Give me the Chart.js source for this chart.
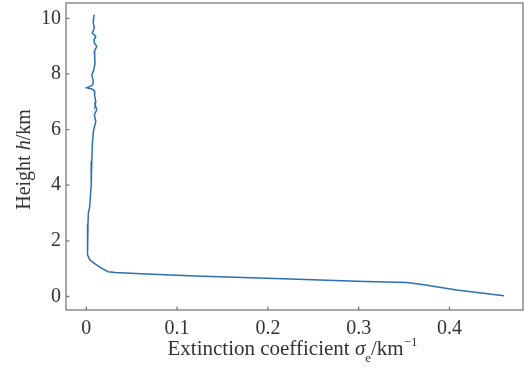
<!DOCTYPE html>
<html>
<head>
<meta charset="utf-8">
<script src="https://cdn.jsdelivr.net/npm/chart.js@4.4.1/dist/chart.umd.min.js"></script>
<style>
  html, body { margin: 0; padding: 0; background: #fff; }
  #wrap { width: 525px; height: 370px; position: relative; }
</style>
</head>
<body>
<div id="wrap"><canvas id="chart"></canvas></div>
<script>
// extinction profile, read top to bottom
const heights = [10.13, 10.0, 9.83, 9.65, 9.47, 9.35, 9.22, 9.11, 8.99, 8.81, 8.6, 8.39, 8.2, 8.09, 7.97,
  7.73, 7.6, 7.5, 7.46, 7.4, 7.2, 7.0, 6.89, 6.71, 6.53, 6.29, 6.1, 5.93, 5.45, 4.85, 4.4, 4.01, 3.6,
  3.2, 2.99, 2.6, 2.39, 2.0, 1.67, 1.5, 1.43, 1.31, 1.22, 1.12, 1.01, 0.89, 0.86, 0.82, 0.74, 0.63,
  0.55, 0.52, 0.5, 0.43, 0.23, 0.03];
const extinction = [0.0088, 0.008, 0.0077, 0.0088, 0.0066, 0.0104, 0.0085, 0.0088, 0.0115, 0.0088, 0.0092,
  0.0096, 0.0085, 0.0077, 0.006, 0.0077, 0.007, 0.0004, 0.006, 0.0088, 0.0092, 0.0104, 0.0096, 0.0115,
  0.0088, 0.0104, 0.009, 0.0077, 0.0066, 0.006, 0.0055, 0.0052, 0.0045, 0.0036, 0.0022, 0.0018, 0.0015,
  0.0012, 0.001, 0.0015, 0.0022, 0.004, 0.0077, 0.012, 0.017, 0.024, 0.032, 0.06, 0.12, 0.225, 0.298,
  0.33, 0.353, 0.37, 0.408, 0.46];
const xTicks = [0, 0.1, 0.2, 0.3, 0.4];
const yTicks = [0, 2, 4, 6, 8, 10];

const serif = "'Liberation Serif', 'Times New Roman', serif";
const textColor = '#333';

function drawRuns(ctx, runs, x, y, align) {
  let total = 0;
  runs.forEach(r => { ctx.font = r.font; total += ctx.measureText(r.t).width; });
  let cx = align === 'center' ? x - total / 2 : x;
  runs.forEach(r => {
    ctx.font = r.font;
    ctx.fillText(r.t, cx, y + (r.dy || 0));
    cx += ctx.measureText(r.t).width;
  });
}

const framePlugin = {
  id: 'frame',
  afterDraw(chart) {
    const { ctx, chartArea: a, scales: { x, y } } = chart;
    ctx.save();
    ctx.strokeStyle = '#7a7a7a';
    ctx.lineWidth = 1.3;
    ctx.strokeRect(a.left, a.top, a.right - a.left, a.bottom - a.top);
    ctx.beginPath();
    x.ticks.forEach(t => {
      const px = x.getPixelForValue(t.value);
      ctx.moveTo(px, a.bottom);
      ctx.lineTo(px, a.bottom - 3.5);
    });
    y.ticks.forEach(t => {
      const py = y.getPixelForValue(t.value);
      ctx.moveTo(a.left, py);
      ctx.lineTo(a.left + 3.5, py);
    });
    ctx.stroke();

    ctx.fillStyle = textColor;
    ctx.textAlign = 'left';
    ctx.textBaseline = 'alphabetic';
    const reg = '21px ' + serif, ita = 'italic 21px ' + serif, small = '13px ' + serif;
    drawRuns(ctx, [
      { t: 'Extinction coefficient ', font: reg },
      { t: 'σ', font: ita },
      { t: 'e', font: small, dy: 7 },
      { t: '/km', font: reg },
      { t: '−1', font: small, dy: -9 }
    ], (a.left + a.right) / 2 - 2, 355, 'center');

    const yreg = '20px ' + serif, yita = 'italic 20px ' + serif;
    ctx.translate(30, (a.top + a.bottom) / 2 + 3);
    ctx.rotate(-Math.PI / 2);
    drawRuns(ctx, [
      { t: 'Height ', font: yreg },
      { t: 'h', font: yita },
      { t: '/km', font: yreg }
    ], 0, 0, 'center');
    ctx.restore();
  }
};

new Chart(document.getElementById('chart'), {
  type: 'scatter',
  data: {
    datasets: [{
      data: heights.map((h, i) => ({ x: extinction[i], y: h })),
      showLine: true,
      borderColor: '#2c6fb3',
      borderWidth: 1.5,
      pointRadius: 0,
      fill: false,
      tension: 0
    }]
  },
  options: {
    responsive: true,
    maintainAspectRatio: false,
    animation: false,
    layout: { padding: { top: 3, right: 2, left: 0, bottom: 0 } },
    plugins: { legend: { display: false }, tooltip: { enabled: false } },
    scales: {
      x: {
        type: 'linear',
        min: -0.0224,
        max: 0.481,
        afterBuildTicks: s => { s.ticks = xTicks.map(v => ({ value: v })); },
        afterFit: s => { s.height = 60; s.paddingLeft = 0; s.paddingRight = 0; },
        grid: { display: false, drawTicks: false },
        border: { display: false },
        ticks: {
          padding: 7,
          color: textColor,
          font: { family: serif, size: 20 },
          callback: v => String(v)
        }
      },
      y: {
        type: 'linear',
        min: -0.486,
        max: 10.55,
        afterBuildTicks: s => { s.ticks = yTicks.map(v => ({ value: v })); },
        afterFit: s => { s.width = 66; s.paddingTop = 0; s.paddingBottom = 0; },
        grid: { display: false, drawTicks: false },
        border: { display: false },
        ticks: {
          padding: 5,
          color: textColor,
          font: { family: serif, size: 20 },
          callback: v => String(v)
        }
      }
    }
  },
  plugins: [framePlugin]
});
</script>
</body>
</html>
